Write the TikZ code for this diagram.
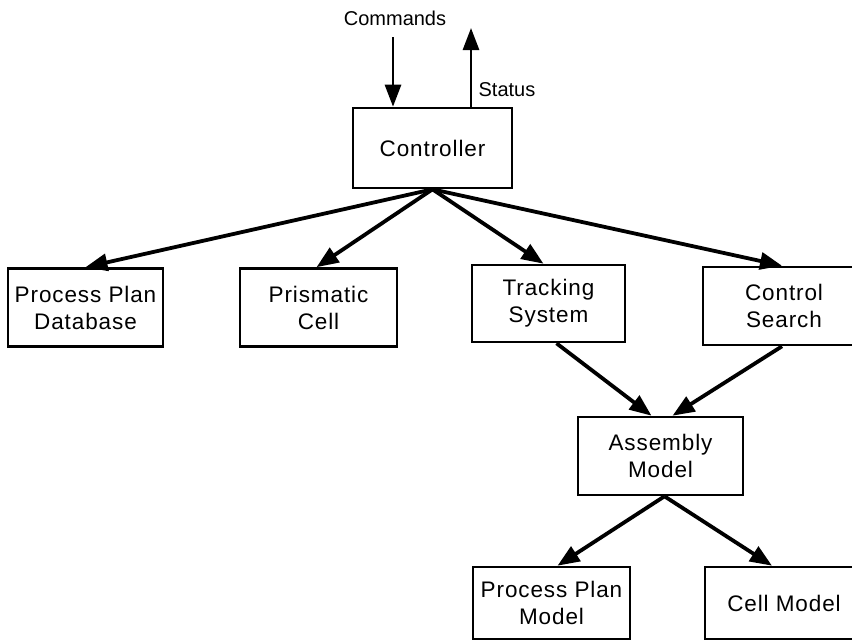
\documentclass[tikz,border=0pt]{standalone}
\usepackage{fontspec}
\setmainfont[LetterSpace=4]{Liberation Sans}
\newfontfamily\labelfont{Liberation Sans}
\usetikzlibrary{positioning,arrows.meta,calc}

\begin{document}
\begin{tikzpicture}[
  x=1pt, y=-1pt,
  every node/.style={font=\fontsize{22.5}{27}\selectfont},
  modbox/.style={draw, line width=2.6pt, align=center, minimum width=155pt, minimum height=78pt, inner sep=2pt},
  iolabel/.style={font=\labelfont\fontsize{20}{24}\selectfont, inner sep=1pt},
  link/.style={-{Triangle[length=22pt,width=17pt]}, line width=3.8pt},
  iolink/.style={-{Triangle[length=22pt,width=16pt]}, line width=2.8pt}
]
\useasboundingbox (0,0) rectangle (852,640);
\clip (0,0) rectangle (852,640);

% controller and its outside signals
\node[modbox, minimum width=159pt, minimum height=80pt] (ctrl) at (432.5,148) {Controller};
\node[iolabel] (cmdlbl) at (395,18) {Commands};
\node[iolabel] (statlbl) at (507,90) {Status};
\coordinate (cmdin) at (393,37);
\coordinate (statout) at (471,28);
\draw[iolink] (cmdin) -- (cmdin |- ctrl.north);
\draw[iolink] (statout |- ctrl.north) -- (statout);

% first row
\node[modbox] (ppdb) at (85.5,307.5) {Process Plan\\Database};
\node[modbox, minimum width=157pt] (prism) at (318.5,307.5) {Prismatic\\Cell};
\node[modbox, minimum width=153pt, minimum height=77pt] (track) at (548.5,303.5) {Tracking\\System};
\node[modbox, minimum width=162pt] (csearch) at (784,306) {Control\\Search};

% lower models
\node[modbox, minimum width=165pt] (asm) at (660.5,456) {Assembly\\Model};
\node[modbox, minimum width=157pt, minimum height=72pt] (ppm) at (551.5,603) {Process Plan\\Model};
\node[modbox, minimum width=158pt, minimum height=72pt] (cellm) at (784,603) {Cell Model};

\draw[link] (ctrl.south) -- (ppdb.north);
\draw[link] (ctrl.south) -- ([xshift=-2pt]prism.north);
\draw[link] (ctrl.south) -- ([xshift=-5pt]track.north);
\draw[link] (ctrl.south) -- ([xshift=-2pt]csearch.north);

\draw[link] ([xshift=8pt]track.south) -- ([xshift=-9pt]asm.north);
\draw[link] ([xshift=-2pt]csearch.south) -- ([xshift=12pt]asm.north);

\draw[link] ([xshift=4pt]asm.south) -- ([xshift=6pt]ppm.north);
\draw[link] ([xshift=4pt]asm.south) -- ([xshift=-12pt]cellm.north);
\end{tikzpicture}
\end{document}
